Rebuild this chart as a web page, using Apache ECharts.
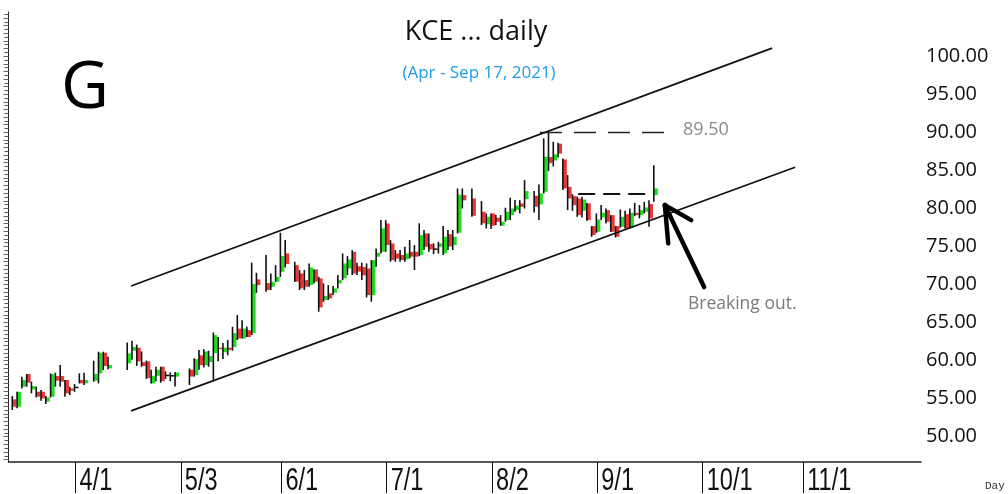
<!DOCTYPE html>
<html>
<head>
<meta charset="utf-8">
<script src="https://cdn.jsdelivr.net/npm/echarts@6/dist/echarts.min.js"></script>
<style>
  html, body { margin: 0; padding: 0; background: #fff; }
  #app { width: 1008px; height: 494px; }
</style>
</head>
<body>
<div id="app"></div>
<script>
// x axis = every weekday from AXIS_START to AXIS_END (holidays stay as empty slots)
const AXIS_START = "2021-03-12";
const AXIS_END = "2021-12-03";
const FIRST_CANDLE = "3/15";
const TICK_LABELS = ["4/1", "5/3", "6/1", "7/1", "8/2", "9/1", "10/1", "11/1"];
const PRICE_LABELS = [50, 55, 60, 65, 70, 75, 80, 85, 90, 95, 100];

// KCE daily, 3/15 .. 9/17 (null = no bar)
const OPEN = [
  54.91, 53.94, 56.57, 58.23, 56.22, 55.91, 55.91, 54.60, 55.26, 57.97,
  57.97, 57.45, 56.35, 56.57, 57.45, 57.01, null, 57.36, 58.32, 61.04,
  58.98, null, null, null, 59.63, 61.30, 61.70, 59.80, 59.90, 57.00,
  58.00, 59.20, 58.15, 58.10, 57.90, null, null, 58.80, 58.10, 60.70,
  59.40, 59.80, 61.00, 61.70, 61.10, 61.70, 61.80, 64.20, 62.90, 64.00,
  63.60, 70.67, null, 70.20, 69.70, 70.36, 71.67, 74.08, null, 72.55,
  71.45, 70.58, 69.92, 71.98, 70.80, 67.95, 68.83, 68.92, 70.14, 70.80,
  72.11, 74.30, 72.40, 72.30, 72.11, 68.61, 73.64, 74.30, 78.02, 75.40,
  74.08, 73.87, 73.30, 74.30, 74.30, 73.87, 76.71, 75.31, 74.74, 74.96,
  74.08, 76.60, 75.18, 76.80, 81.75, null, 81.31, null, 79.56, 77.90,
  79.34, 78.77, 77.72, 78.46, 79.12, 79.78, 80.65, 81.22, null, 81.66,
  80.52, 82.18, 86.75, 86.30, 88.50, 86.42, 82.83, 81.61, 81.30, 79.68,
  80.65, 77.67, 76.92, 78.81, 79.77, 79.11, 77.67, 77.58, 79.24, 77.49,
  79.42, 79.11, 79.55, 80.56, 81.74
];
const CLOSE = [
  53.94, 55.91, 57.45, 57.10, 56.66, 55.26, 55.04, 55.17, 58.23, 57.36,
  57.23, 55.70, 56.05, 56.50, 57.01, 57.45, null, 58.23, 61.04, 59.29,
  59.42, null, null, null, 60.95, 61.80, 59.90, 59.30, 57.70, 58.00,
  58.80, 57.30, 58.10, 58.00, 58.45, null, null, 57.90, 60.20, 59.40,
  61.20, 60.60, 63.35, 61.50, 61.70, 61.40, 63.60, 62.90, 64.20, 63.10,
  70.05, 69.92, null, 69.27, 70.36, 71.00, 73.73, 72.68, null, 70.36,
  69.49, 69.70, 72.24, 70.36, 66.99, 68.48, 68.17, 69.49, 70.58, 72.77,
  73.29, 71.45, 71.70, 71.20, 68.61, 73.20, 74.17, 77.37, 75.18, 73.20,
  73.40, 73.21, 74.08, 73.65, 73.65, 76.49, 74.96, 74.61, 74.61, 75.40,
  76.27, 75.00, 76.27, 81.80, 81.05, null, 79.03, null, 78.03, 78.90,
  77.72, 78.24, 78.24, 79.56, 79.99, 80.35, 80.21, 82.27, null, 80.21,
  81.96, 86.80, 85.95, 87.10, 87.20, 82.62, 81.30, 80.43, 79.11, 81.17,
  78.46, 76.49, 78.55, 79.42, 78.24, 76.92, 76.27, 78.89, 77.36, 79.42,
  79.11, 79.77, 80.12, 78.68, 82.62
];
const LOW = [
  53.51, 53.73, 56.35, 56.57, 55.70, 55.17, 54.73, 54.29, 55.17, 56.57,
  56.57, 55.26, 55.48, 55.91, 57.01, 56.79, null, 57.23, 57.01, 58.76,
  58.85, null, null, null, 58.76, 60.10, 59.30, 59.20, 57.60, 57.00,
  57.30, 57.10, 57.60, 57.30, 56.60, null, null, 56.80, 57.90, 58.80,
  59.10, 59.20, 57.30, 59.90, 60.20, 60.70, 61.30, 62.70, 62.90, 63.10,
  63.36, 68.90, null, 69.05, 69.27, 70.36, 71.00, 72.24, null, 70.36,
  69.27, 69.27, 69.70, 70.14, 66.42, 67.73, 67.95, 68.61, 69.49, 70.58,
  71.24, 71.24, 71.24, 70.58, 68.30, 67.73, 72.33, 74.08, 74.30, 72.99,
  72.99, 72.99, 72.99, 73.43, 71.90, 73.73, 74.52, 74.30, 74.00, 74.08,
  73.87, 74.52, 74.52, 76.71, 79.99, null, 78.90, null, 77.81, 77.37,
  77.28, 77.81, 77.72, 78.24, 78.46, 79.56, 79.34, 79.99, null, 79.47,
  78.46, 81.96, 84.90, 85.50, 86.69, 82.40, 79.77, 79.68, 78.89, 78.81,
  78.37, 76.27, 76.79, 78.46, 78.02, 76.92, 76.18, 77.49, 77.36, 77.36,
  78.98, 78.68, 79.33, 77.58, 80.86
];
const HIGH = [
  55.35, 55.91, 57.88, 58.23, 57.23, 56.57, 56.13, 55.35, 58.32, 58.41,
  59.42, 57.45, 56.57, 56.92, 58.32, 58.41, null, 59.99, 61.17, 61.17,
  60.51, null, null, null, 62.39, 62.60, 62.10, 61.20, 60.00, 58.80,
  59.20, 59.20, 58.60, 58.45, 58.50, null, null, 58.97, 60.30, 61.40,
  61.50, 61.30, 63.70, 63.10, 62.30, 62.70, 64.45, 66.00, 65.30, 64.45,
  72.86, 71.54, null, 73.86, 71.45, 72.55, 76.80, 75.83, null, 72.99,
  71.89, 71.89, 72.77, 71.98, 71.02, 70.14, 69.92, 69.79, 71.24, 74.08,
  73.73, 74.52, 72.86, 72.86, 72.77, 73.20, 74.74, 78.46, 78.46, 75.83,
  74.52, 74.52, 74.96, 75.84, 75.18, 78.03, 77.15, 76.71, 75.40, 75.60,
  77.70, 77.15, 77.15, 82.62, 82.62, null, 82.62, null, 80.96, 79.34,
  79.34, 79.12, 79.12, 80.08, 81.40, 81.09, 81.09, 83.72, null, 82.27,
  83.15, 89.20, 90.06, 88.75, 88.61, 86.56, 84.37, 81.87, 81.52, 81.52,
  80.73, 77.67, 79.33, 80.43, 79.99, 79.11, 77.67, 79.86, 79.68, 79.99,
  80.73, 80.43, 80.86, 81.08, 85.68
];

// channel lines and markers, as [weekday index, price]
const UPPER_CHANNEL = [[25.6, 69.8], [159.5, 101.05]];
const LOWER_CHANNEL = [[25.6, 53.4], [164.3, 85.4]];
const HIGH_LINE = [[111.0, 89.95], [137.8, 89.95]];
const BREAKOUT_LINE = [[119.0, 81.97], [134.6, 81.97]];

function weekdays(a, b) {
  const out = [];
  const d = new Date(a + "T00:00:00Z");
  const end = new Date(b + "T00:00:00Z");
  while (d <= end) {
    const w = d.getUTCDay();
    if (w !== 0 && w !== 6) out.push(d.getUTCMonth() + 1 + "/" + d.getUTCDate());
    d.setUTCDate(d.getUTCDate() + 1);
  }
  return out;
}

const DAYS = weekdays(AXIS_START, AXIS_END);
const first = DAYS.indexOf(FIRST_CANDLE);
const candles = [];
OPEN.forEach((o, i) => {
  if (o == null) return;
  candles.push([first + i, o, CLOSE[i], LOW[i], HIGH[i]]);
});
const tickIdx = TICK_LABELS.map((l) => DAYS.indexOf(l));

const range = (a, b, s) => {
  const r = [];
  for (let v = a; v <= b + 1e-9; v += s) r.push(+v.toFixed(2));
  return r;
};

const GREEN = "#22dc22";
const RED = "#ec3636";
const SANS = "'Open Sans', sans-serif";

const seg = (pts, style) => [
  { coord: pts[0], lineStyle: style },
  { coord: pts[1] },
];
const arrowStyle = { color: "#000", width: 4.5, type: "solid", cap: "round" };

const chart = echarts.init(document.getElementById("app"), null, { renderer: "canvas" });
chart.setOption({
  animation: false,
  backgroundColor: "#fff",
  grid: { left: 8.5, right: 87, top: 12, bottom: 32 },
  xAxis: {
    type: "value",
    min: 0,
    max: 190.6,
    splitLine: { show: false },
    axisLine: { show: true, lineStyle: { color: "#222", width: 1.5 } },
    axisTick: {
      show: true,
      customValues: tickIdx,
      length: 31,
      lineStyle: { color: "#111", width: 1 },
    },
    // the narrow date labels are drawn below as scaled text
    axisLabel: { show: false },
  },
  yAxis: [
    {
      type: "value",
      position: "right",
      min: 46.68,
      max: 105.8,
      splitLine: { show: false },
      axisLine: { show: true, lineStyle: { color: "#222", width: 1 } },
      axisTick: {
        show: true,
        inside: true,
        length: 4,
        customValues: range(47, 105.5, 0.5),
        lineStyle: { color: "#555" },
      },
      axisLabel: {
        customValues: PRICE_LABELS,
        formatter: (v) => v.toFixed(2),
        fontFamily: SANS,
        fontSize: 20,
        color: "#111",
        margin: 5,
      },
    },
    {
      type: "value",
      position: "left",
      min: 46.68,
      max: 105.8,
      splitLine: { show: false },
      axisLine: { show: false },
      axisTick: {
        show: true,
        length: 5,
        customValues: range(47, 105, 1),
        lineStyle: { color: "#666" },
      },
      axisLabel: { show: false },
    },
  ],
  series: [
    {
      type: "custom",
      name: "KCE",
      data: candles,
      encode: { x: 0, y: [1, 2, 3, 4] },
      renderItem: (params, api) => {
        const i = api.value(0);
        const o = api.value(1), c = api.value(2), l = api.value(3), h = api.value(4);
        const pO = api.coord([i, o]);
        const pC = api.coord([i, c]);
        const pL = api.coord([i, l]);
        const pH = api.coord([i, h]);
        const x = pO[0];
        const top = Math.min(pO[1], pC[1]);
        const bot = Math.max(pO[1], pC[1]);
        let fill = c >= o ? GREEN : RED;
        if (Math.abs(c - o) < 0.16) fill = "#111";
        return {
          type: "group",
          children: [
            {
              type: "rect",
              shape: { x: x - 1, y: top, width: 4, height: Math.max(bot - top, 1.5) },
              style: { fill: fill },
            },
            {
              type: "line",
              shape: { x1: x - 1, y1: pH[1], x2: x - 1, y2: pL[1] },
              style: { stroke: "#111", lineWidth: 1.6 },
            },
          ],
        };
      },
      markLine: {
        silent: true,
        symbol: "none",
        label: { show: false },
        lineStyle: { color: "#111", width: 1.8, type: "solid" },
        data: [
          seg(UPPER_CHANNEL, { color: "#111", width: 1.8, type: "solid" }),
          seg(LOWER_CHANNEL, { color: "#111", width: 1.8, type: "solid" }),
          seg(HIGH_LINE, { color: "#222", width: 1.4, type: [22, 12] }),
          seg(BREAKOUT_LINE, { color: "#111", width: 2, type: [17, 8] }),
          seg([[137.1, 80.43], [145.3, 69.66]], arrowStyle),
          seg([[137.1, 80.43], [137.8, 75.4]], arrowStyle),
          seg([[137.1, 80.43], [142.6, 78.46]], arrowStyle),
        ],
      },
    },
  ],
});

const text = (x, y, str, font, fill, align, extra) =>
  Object.assign(
    {
      type: "text",
      x: x,
      y: y,
      silent: true,
      style: { text: str, font: font, fill: fill, align: align, verticalAlign: "middle" },
    },
    extra || {}
  );

const graphics = [
  text(85, 89, "G", "66px " + SANS, "#000", "center"),
  text(476, 32, "KCE ... daily", "27px " + SANS, "#111", "center"),
  text(479, 73, "(Apr - Sep 17, 2021)", "17px " + SANS, "#1e9be8", "center"),
  text(683, 130, "89.50", "18px " + SANS, "#8a8a8a", "left"),
  text(688, 304, "Breaking out.", "17.5px " + SANS, "#7a7a7a", "left"),
  text(985, 486, "Day", "11px 'Liberation Mono', monospace", "#333", "left"),
];
const axisY = chart.convertToPixel({ yAxisIndex: 0 }, 46.68);
tickIdx.forEach((idx, k) => {
  const px = chart.convertToPixel({ xAxisIndex: 0 }, idx);
  graphics.push(
    text(px + 4, axisY + 4, TICK_LABELS[k], "31px 'Liberation Sans', sans-serif", "#111", "left", {
      scaleX: 0.76,
      style: {
        text: TICK_LABELS[k],
        font: "31px 'Liberation Sans', sans-serif",
        fill: "#111",
        align: "left",
        verticalAlign: "top",
      },
    })
  );
});
chart.setOption({ graphic: graphics });
</script>
</body>
</html>
